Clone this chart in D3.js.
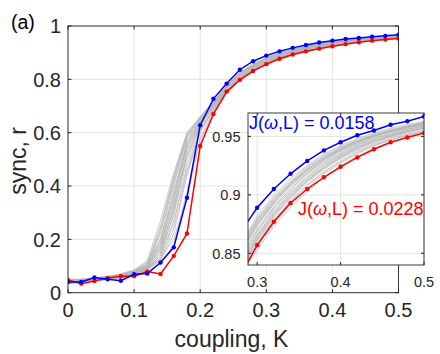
<!DOCTYPE html>
<html>
<head>
<meta charset="utf-8">
<script src="https://cdn.jsdelivr.net/npm/d3@7"></script>
<style>
  body { margin: 0; background: #fff; }
  text { font-family: "Liberation Sans", Arial, Helvetica, sans-serif; }
</style>
</head>
<body>
<div id="chart"></div>
<script>
// coupling values K
var kVals = [0,0.02,0.04,0.06,0.08,0.10,0.12,0.14,0.16,0.18,0.20,0.22,0.24,0.26,0.28,0.30,0.32,0.34,0.36,0.38,0.40,0.42,0.44,0.46,0.48,0.50];

var blueR = [0.040,0.040,0.057,0.050,0.045,0.069,0.072,0.113,0.170,0.356,0.628,0.727,0.784,0.836,0.868,0.889,0.905,0.918,0.929,0.938,0.945,0.951,0.955,0.960,0.963,0.967];
var redR  = [0.048,0.034,0.044,0.055,0.062,0.062,0.079,0.070,0.138,0.222,0.550,0.670,0.754,0.798,0.831,0.857,0.877,0.893,0.905,0.915,0.924,0.932,0.939,0.945,0.949,0.953];

// grey curves (other orderings)
var greyR = [
  [0.045,0.040,0.050,0.055,0.060,0.075,0.100,0.240,0.440,0.590,0.660,0.715,0.775,0.825,0.855,0.880,0.898,0.912,0.924,0.934,0.941,0.947,0.952,0.956,0.959,0.962],
  [0.040,0.045,0.050,0.050,0.065,0.080,0.110,0.200,0.400,0.580,0.650,0.710,0.770,0.820,0.850,0.875,0.894,0.909,0.921,0.931,0.939,0.945,0.950,0.954,0.958,0.961],
  [0.035,0.040,0.045,0.055,0.060,0.070,0.095,0.170,0.350,0.550,0.640,0.705,0.765,0.815,0.845,0.870,0.889,0.905,0.918,0.928,0.936,0.943,0.948,0.952,0.956,0.959],
  [0.050,0.045,0.055,0.060,0.070,0.085,0.120,0.270,0.450,0.600,0.655,0.710,0.770,0.820,0.852,0.878,0.896,0.910,0.922,0.932,0.940,0.946,0.951,0.955,0.959,0.962],
  [0.040,0.040,0.045,0.050,0.055,0.065,0.085,0.140,0.300,0.520,0.630,0.700,0.760,0.810,0.842,0.866,0.886,0.902,0.915,0.926,0.934,0.941,0.947,0.951,0.955,0.958],
  [0.045,0.050,0.050,0.060,0.065,0.080,0.100,0.190,0.380,0.560,0.645,0.700,0.762,0.810,0.840,0.864,0.884,0.900,0.913,0.924,0.933,0.940,0.946,0.950,0.954,0.957],
  [0.040,0.045,0.050,0.055,0.060,0.070,0.090,0.130,0.260,0.480,0.615,0.690,0.755,0.805,0.838,0.862,0.882,0.898,0.912,0.923,0.932,0.939,0.945,0.950,0.954,0.957],
  [0.035,0.040,0.050,0.050,0.060,0.075,0.100,0.180,0.340,0.570,0.650,0.712,0.772,0.822,0.855,0.879,0.897,0.911,0.923,0.933,0.940,0.946,0.951,0.955,0.958,0.961],
  [0.050,0.050,0.055,0.060,0.065,0.080,0.105,0.220,0.420,0.600,0.660,0.718,0.778,0.826,0.857,0.882,0.900,0.914,0.925,0.935,0.942,0.948,0.953,0.957,0.960,0.963],
  [0.040,0.040,0.045,0.050,0.060,0.070,0.088,0.120,0.220,0.440,0.600,0.685,0.752,0.802,0.835,0.860,0.879,0.895,0.909,0.920,0.929,0.937,0.943,0.948,0.952,0.955],
  [0.045,0.045,0.050,0.055,0.065,0.075,0.095,0.160,0.320,0.540,0.635,0.700,0.763,0.812,0.846,0.870,0.890,0.905,0.918,0.929,0.937,0.943,0.949,0.953,0.957,0.960],
  [0.040,0.050,0.050,0.055,0.060,0.070,0.092,0.150,0.290,0.500,0.625,0.695,0.758,0.808,0.840,0.865,0.885,0.901,0.914,0.925,0.934,0.941,0.946,0.951,0.955,0.958],
  [0.035,0.040,0.045,0.050,0.055,0.065,0.082,0.110,0.180,0.380,0.580,0.680,0.748,0.800,0.832,0.856,0.876,0.892,0.906,0.918,0.927,0.935,0.942,0.947,0.951,0.954],
  [0.050,0.045,0.050,0.060,0.065,0.080,0.100,0.200,0.360,0.550,0.640,0.705,0.768,0.818,0.850,0.874,0.893,0.908,0.920,0.930,0.938,0.944,0.950,0.954,0.957,0.960],
  [0.040,0.045,0.050,0.055,0.060,0.072,0.095,0.165,0.310,0.530,0.632,0.698,0.760,0.810,0.843,0.868,0.888,0.903,0.916,0.927,0.935,0.942,0.948,0.952,0.956,0.959],
  [0.045,0.040,0.050,0.050,0.060,0.070,0.090,0.140,0.270,0.460,0.610,0.688,0.753,0.804,0.836,0.861,0.881,0.897,0.911,0.922,0.931,0.938,0.944,0.949,0.953,0.956],
  [0.040,0.045,0.055,0.060,0.070,0.085,0.115,0.250,0.430,0.590,0.655,0.713,0.774,0.823,0.853,0.877,0.895,0.910,0.922,0.932,0.939,0.946,0.951,0.955,0.958,0.961],
  [0.035,0.040,0.045,0.050,0.055,0.068,0.085,0.125,0.240,0.450,0.605,0.686,0.750,0.800,0.834,0.858,0.878,0.894,0.908,0.919,0.928,0.936,0.942,0.947,0.951,0.954],
  [0.045,0.050,0.050,0.055,0.065,0.078,0.100,0.180,0.370,0.565,0.645,0.707,0.769,0.818,0.848,0.873,0.892,0.907,0.919,0.930,0.938,0.945,0.950,0.954,0.958,0.961],
  [0.040,0.040,0.050,0.055,0.060,0.070,0.090,0.150,0.330,0.510,0.628,0.696,0.757,0.806,0.838,0.863,0.883,0.899,0.912,0.923,0.932,0.940,0.946,0.950,0.954,0.957],
  [0.040,0.045,0.045,0.050,0.060,0.070,0.088,0.130,0.200,0.360,0.570,0.675,0.745,0.797,0.830,0.853,0.873,0.889,0.903,0.915,0.925,0.933,0.940,0.945,0.950,0.953],
  [0.050,0.050,0.055,0.060,0.070,0.082,0.110,0.230,0.410,0.585,0.652,0.710,0.771,0.820,0.851,0.876,0.894,0.909,0.921,0.931,0.939,0.945,0.950,0.955,0.958,0.961]
];

var xTicks = [0, 0.1, 0.2, 0.3, 0.4, 0.5];
var xTickLabels = ["0", "0.1", "0.2", "0.3", "0.4", "0.5"];
var yTicks = [0, 0.2, 0.4, 0.6, 0.8, 1];
var yTickLabels = ["0", "0.2", "0.4", "0.6", "0.8", "1"];
var insetXTicks = [0.3, 0.4, 0.5];
var insetXLabels = ["0.3", "0.4", "0.5"];
var insetYTicks = [0.85, 0.9, 0.95];
var insetYLabels = ["0.85", "0.9", "0.95"];

var blueJ = "0.0158";
var redJ = "0.0228";

var W = 440, H = 354;
var axisCol = "#262626", gridCol = "#e3e3e3", greyCol = "#b4b4b4";

var svg = d3.select("#chart").append("svg")
	.attr("width", W)
	.attr("height", H)
	.attr("viewBox", [0, 0, W, H]);

// main axes
var x = d3.scaleLinear().domain([0, 0.5]).range([68, 398.5]);
var y = d3.scaleLinear().domain([0, 1]).range([292.7, 26]);

function drawPanel(g, xs, ys, xt, xl, yt, yl, fs, tickLen, xLabY, yLabGap, clipId) {
	var x0 = xs.range()[0], x1 = xs.range()[1];
	var y0 = ys.range()[0], y1 = ys.range()[1];

	g.append("rect")
		.attr("x", x0).attr("y", y1)
		.attr("width", x1 - x0).attr("height", y0 - y1)
		.attr("fill", "#fff");

	g.append("clipPath").attr("id", clipId)
		.append("rect")
		.attr("x", x0).attr("y", y1)
		.attr("width", x1 - x0).attr("height", y0 - y1);

	// grid
	g.selectAll(".gx").data(xt).join("line")
		.attr("x1", d => xs(d)).attr("x2", d => xs(d))
		.attr("y1", y0).attr("y2", y1)
		.attr("stroke", gridCol).attr("stroke-width", 1);
	g.selectAll(".gy").data(yt).join("line")
		.attr("class", "gy")
		.attr("x1", x0).attr("x2", x1)
		.attr("y1", d => ys(d)).attr("y2", d => ys(d))
		.attr("stroke", gridCol).attr("stroke-width", 1);

	var plot = g.append("g").attr("clip-path", "url(#" + clipId + ")");

	var line = d3.line()
		.x((d, i) => xs(kVals[i]))
		.y(d => ys(d));

	plot.selectAll(".grey").data(greyR).join("path")
		.attr("d", line)
		.attr("fill", "none")
		.attr("stroke", greyCol)
		.attr("stroke-width", 0.7);

	[[redR, "#ff0000"], [blueR, "#0000ff"]].forEach(function(s) {
		plot.append("path")
			.attr("d", line(s[0]))
			.attr("fill", "none")
			.attr("stroke", s[1])
			.attr("stroke-width", 1.5);
		plot.selectAll(null).data(s[0]).join("circle")
			.attr("cx", (d, i) => xs(kVals[i]))
			.attr("cy", d => ys(d))
			.attr("r", 2.2)
			.attr("fill", s[1]);
	});

	// box
	g.append("rect")
		.attr("x", x0).attr("y", y1)
		.attr("width", x1 - x0).attr("height", y0 - y1)
		.attr("fill", "none")
		.attr("stroke", axisCol).attr("stroke-width", 0.9);

	// ticks inside, on all four sides
	xt.forEach(function(t) {
		g.append("line").attr("x1", xs(t)).attr("x2", xs(t)).attr("y1", y0).attr("y2", y0 - tickLen).attr("stroke", axisCol);
		g.append("line").attr("x1", xs(t)).attr("x2", xs(t)).attr("y1", y1).attr("y2", y1 + tickLen).attr("stroke", axisCol);
	});
	yt.forEach(function(t) {
		g.append("line").attr("x1", x0).attr("x2", x0 + tickLen).attr("y1", ys(t)).attr("y2", ys(t)).attr("stroke", axisCol);
		g.append("line").attr("x1", x1).attr("x2", x1 - tickLen).attr("y1", ys(t)).attr("y2", ys(t)).attr("stroke", axisCol);
	});

	g.selectAll(".xl").data(xt).join("text")
		.attr("x", d => xs(d))
		.attr("y", xLabY)
		.attr("text-anchor", "middle")
		.style("font-size", fs + "px")
		.attr("fill", axisCol)
		.text((d, i) => xl[i]);
	g.selectAll(".yl").data(yt).join("text")
		.attr("x", x0 - yLabGap)
		.attr("y", d => ys(d) + fs * 0.36)
		.attr("text-anchor", "end")
		.style("font-size", fs + "px")
		.attr("fill", axisCol)
		.text((d, i) => yl[i]);
}

var main = svg.append("g");
drawPanel(main, x, y, xTicks, xTickLabels, yTicks, yTickLabels, 20, 3.5, 317, 7, "clipMain");

// axis labels
svg.append("text")
	.attr("x", 231.5).attr("y", 347)
	.attr("text-anchor", "middle")
	.style("font-size", "23px")
	.attr("fill", axisCol)
	.text("coupling, K");

svg.append("text")
	.attr("transform", "translate(25.5,161) rotate(-90)")
	.attr("text-anchor", "middle")
	.style("font-size", "23px")
	.attr("fill", axisCol)
	.text("sync, r");

svg.append("text")
	.attr("x", 11).attr("y", 29)
	.style("font-size", "19.5px")
	.attr("fill", "#000")
	.text("(a)");

// inset
var xi = d3.scaleLinear().domain([0.289, 0.5]).range([248, 424]);
var yi = d3.scaleLinear().domain([0.84, 0.97]).range([265, 113]);
var inset = svg.append("g");
drawPanel(inset, xi, yi, insetXTicks, insetXLabels, insetYTicks, insetYLabels, 14.5, 3, 287, 7.5, "clipInset");

function jLabel(xp, yp, col, val) {
	var t = svg.append("text")
		.attr("x", xp).attr("y", yp)
		.style("font-size", "18px")
		.attr("fill", col);
	t.append("tspan").text("J(");
	t.append("tspan").style("font-style", "italic").text("\u03c9");
	t.append("tspan").text(",L) = " + val);
}
jLabel(249, 129, "#0000ff", blueJ);
jLabel(298, 215, "#ff0000", redJ);
</script>
</body>
</html>
